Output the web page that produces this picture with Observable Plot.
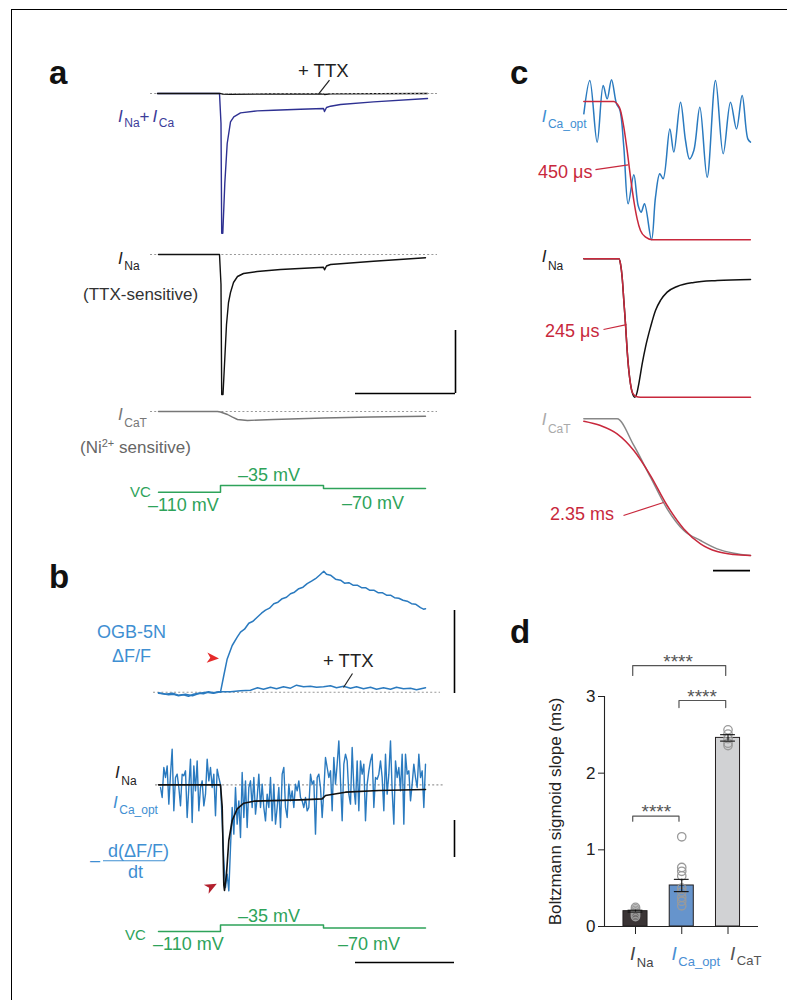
<!DOCTYPE html>
<html><head><meta charset="utf-8">
<script src="https://cdn.jsdelivr.net/npm/d3@7"></script>
<script src="https://cdn.jsdelivr.net/npm/@observablehq/plot@0.6"></script>
<style>
body{margin:0;background:#fff;}
#fig{position:relative;width:787px;height:1000px;overflow:hidden;background:#fff;}
#frame{position:absolute;left:11px;top:9px;width:820px;height:1020px;border-left:1.5px solid #000;border-top:1.5px solid #000;}
</style></head><body><div id="fig"><div id="frame"></div></div>
<script>
// ---------------- DATA ----------------
// Panel a (time in ms from step onset, current in pA)
const aTotal = [[-6.3,0],[-0.1,0],[0.05,-300],[0.12,-1397],[0.23,-1397],[0.43,-900],[0.67,-500],[1.0,-284],[1.33,-234],[2.0,-194],[3.67,-174],[5.3,-167],[8,-158],[10.3,-150],[10.4,-180],[10.6,-140],[11.0,-127],[12,-110],[15.3,-84],[20.7,-50]];
const aTTX = [[-6.3,0],[0,0],[0.2,-6],[1,-8],[5,-5],[10.3,-4],[10.4,-10],[11,-3],[20.7,0]];
const aNa = [[-6.2,0],[-0.1,0],[0.05,-300],[0.12,-1400],[0.25,-1400],[0.4,-1100],[0.6,-700],[0.8,-480],[1.0,-380],[1.3,-280],[1.7,-220],[2.3,-190],[3.67,-170],[6,-150],[10.3,-127],[10.4,-153],[10.6,-115],[11,-100],[15.3,-67],[20.5,-33]];
const aCaT = [[-6.2,0],[-0.3,0],[0,-5],[0.7,-30],[1.2,-57],[1.7,-80],[2.7,-90],[5.3,-80],[10.3,-65],[15,-55],[20.5,-48]];
const vcSteps = [[-6.2,-110],[0,-35],[10.3,-70],[20.5,-70]]; // mV
// Panel b: OGB-5N dF/F (%)
const bDFF = [[-6.2,-0.1],[-5.7,-0.15],[-5.2,-0.25],[-4.7,-0.2],[-4.2,-0.35],[-3.7,-0.25],[-3.2,-0.4],[-2.7,-0.2],[-2.2,-0.1],[-1.7,-0.15],[-1.2,0.05],[-0.7,-0.05],[-0.2,0.05],[0,0],[0.33,1.67],[0.67,3.33],[1.17,4.67],[1.67,5.5],[2.0,6.0],[2.4,6.3],[2.83,6.9],[3.25,7.1],[3.67,7.5],[4.1,7.9],[4.5,8.2],[4.9,8.4],[5.33,8.85],[5.75,9.0],[6.17,9.35],[6.6,9.5],[7.0,9.85],[7.4,10.0],[7.83,10.35],[8.25,10.5],[8.67,10.85],[9.1,11.1],[9.5,11.35],[9.9,11.7],[10.33,12.1],[10.6,11.8],[11.0,11.7],[11.5,11.3],[12.0,11.2],[12.4,10.9],[12.83,10.95],[13.25,10.7],[13.67,10.7],[14.1,10.45],[14.5,10.45],[14.9,10.2],[15.33,10.2],[15.75,9.95],[16.17,9.95],[16.6,9.7],[17.0,9.7],[17.4,9.45],[17.83,9.4],[18.25,9.2],[18.67,9.1],[19.1,8.85],[19.5,8.8],[20.0,8.45],[20.3,8.3],[20.5,8.35]];
const bDFFttx = [[-6.2,-0.05],[-5.5,-0.2],[-4.8,-0.1],[-4.2,-0.3],[-3.5,-0.2],[-2.8,-0.35],[-2.1,-0.1],[-1.4,0],[-0.7,-0.1],[0,0.05],[1,0.05],[2,0.15],[3,0.2],[3.7,0.45],[4.3,0.3],[5,0.5],[5.6,0.35],[6.3,0.55],[7,0.4],[7.6,0.7],[8.3,0.55],[9,0.6],[9.6,0.5],[10.3,0.55],[11,0.65],[11.6,0.45],[12.3,0.6],[13,0.4],[13.6,0.55],[14.3,0.35],[15,0.5],[15.6,0.3],[16.3,0.45],[17,0.3],[17.6,0.5],[18.3,0.35],[19,0.4],[19.6,0.25],[20.5,0.45]];
// Panel b: I_Na (normalised a.u.) and optical I_Ca (-d(dF/F)/dt, a.u.), sampled every 1/6 ms from -6 ms
const bNa = [[-6.2,0],[0,0],[0.17,-66],[0.33,-300],[0.4,-317],[0.6,-267],[0.83,-167],[1.17,-107],[1.67,-72],[2.33,-55],[3.33,-49],[8,-45],[10.17,-42],[10.5,-32],[12.5,-22],[15.83,-17],[20.5,-14]];
const ICaOptStart = -6, ICaOptStep = 1/6;
const ICaOpt = [-8,-38,52,22,57,-58,32,107,-78,22,32,-8,-63,32,27,42,-98,-8,77,-113,57,-18,72,-78,-8,12,-63,-28,77,12,52,-8,32,-93,47,22,0,-108,-228,-308,-268,-318,-188,-68,-148,-8,-118,-48,-158,37,-98,12,-128,-8,12,-68,22,-88,-38,32,-68,2,-68,-108,-28,-68,22,-108,2,-118,-68,-8,-128,32,52,-68,-98,2,-48,-18,-68,2,-18,12,-38,
 -48,-68,-38,-78,-68,32,2,12,-148,22,32,-8,-98,-18,82,52,22,42,-78,82,2,62,132,12,-108,62,92,72,-28,-58,112,-8,-58,72,-78,72,32,62,-108,2,42,72,92,-68,22,17,32,72,22,-78,92,-28,32,132,-18,-118,72,22,52,-18,92,-118,92,32,42,-48,2,62,22,-8,92,22,42,-68,62];
// Panel c (time in ms, normalised amplitude)
const cCaOpt = [[0.009,-0.089],[0.171,0.152],[0.369,-0.294],[0.532,0.116],[0.640,0.019],[0.757,0.157],[0.892,-0.017],[0.982,-0.060],[1.090,-0.330],[1.207,-0.740],[1.360,-0.530],[1.477,-0.752],[1.559,-0.800],[1.649,-0.740],[1.838,-1.000],[1.946,-0.692],[2.063,-0.523],[2.153,-0.559],[2.333,-0.198],[2.441,-0.366],[2.622,-0.005],[2.757,-0.282],[2.865,-0.415],[2.982,-0.354],[3.144,-0.041],[3.342,-0.547],[3.568,0.152],[3.775,-0.378],[3.973,-0.005],[4.135,-0.198],[4.288,0.043],[4.441,-0.270],[4.514,-0.294]];
const cCaOptFit = [[0.009,0],[0.82,0],[0.91,-0.017],[1.0,-0.065],[1.09,-0.186],[1.18,-0.354],[1.27,-0.547],[1.36,-0.716],[1.45,-0.848],[1.54,-0.933],[1.68,-0.981],[1.86,-1.0],[4.51,-1.0]];
const cNa = [[0.009,0],[0.955,0],[1.0,-0.036],[1.045,-0.133],[1.09,-0.301],[1.135,-0.470],[1.18,-0.662],[1.225,-0.807],[1.27,-0.903],[1.315,-0.963],[1.387,-1.0],[1.45,-0.963],[1.495,-0.903],[1.586,-0.759],[1.676,-0.638],[1.811,-0.494],[1.946,-0.373],[2.081,-0.301],[2.261,-0.241],[2.532,-0.200],[2.982,-0.171],[3.613,-0.157],[4.514,-0.149]];
const cNaFit = [[0.009,0],[0.955,0],[1.0,-0.036],[1.045,-0.133],[1.09,-0.301],[1.135,-0.470],[1.18,-0.662],[1.225,-0.807],[1.27,-0.903],[1.315,-0.963],[1.405,-0.993],[1.54,-1.0],[4.514,-1.0]];
const cCaT = [[0.009,0],[0.909,0],[1.36,-0.195],[1.811,-0.427],[2.261,-0.658],[2.712,-0.817],[3.162,-0.890],[3.613,-0.951],[4.063,-0.983],[4.514,-1.0]];
const cCaTFit = [[0.009,-0.017],[0.459,-0.049],[0.909,-0.110],[1.36,-0.232],[1.811,-0.415],[2.261,-0.634],[2.712,-0.805],[3.162,-0.914],[3.613,-0.971],[4.063,-0.993],[4.514,-1.0]];
// Panel d
const dCats = ["Na", "Ca_opt", "CaT"];
const dMeans = [0.20, 0.535, 2.46];
const dSem = [0.012, 0.08, 0.042];
const dPoints = [[0.25,0.23,0.21,0.19,0.17,0.15,0.13],[1.17,0.77,0.72,0.66,0.50,0.45,0.38,0.33,0.27],[2.565,2.51,2.45,2.39,2.36]];
const dBarColors = ["#3a3435", "#6694cc", "#d1d2d4"];
const dTicks = [0, 1, 2, 3];
const dBrackets = [[-0.06,1.95,3.404,3.274,0.92,3.45],[0.94,1.95,2.948,2.856,1.44,2.99],[-0.06,0.94,1.439,1.373,0.45,1.50]]; // x1,x2,top,leg,starsX,starsY
// Scale bars and annotation leaders (data units of each panel)
const aScale = {t1:13.5, t2:23.5, y1:-1390, y2:-760};
const b1Scale = {t:23.4, y1:-0.13, y2:8.17};
const b2Scale = {t:23.4, y1:-218, y2:-107};
const b3Scale = {t1:13.5, t2:23.4, y:-475};
const cScale = {t1:3.514, t2:4.514, y:-1.11};

// ---------------- HELPERS ----------------
const FONT = '"Liberation Sans", Arial, Helvetica, sans-serif';
const fig = document.getElementById("fig");
function place(p, left, top){ p.style.position="absolute"; p.style.left=left+"px"; p.style.top=top+"px"; fig.appendChild(p); }
function trace(left, top, width, height, xd, yd, marks){
  const p = Plot.plot({width, height, margin:0, x:{domain:xd, axis:null}, y:{domain:yd, axis:null},
    style:{background:"transparent", overflow:"visible", fontFamily:FONT}, marks});
  place(p, left, top);
}
const L = (data, o) => Plot.line(data, {x:d=>d[0], y:d=>d[1], strokeLinejoin:"round", ...o});
const dash = (x1, x2) => Plot.ruleY([0], {x1, x2, stroke:"#999", strokeWidth:1.1, strokeDasharray:"2,2.2"});
const leader = (seg, stroke) => Plot.link([seg], {x1:d=>d[0], y1:d=>d[1], x2:d=>d[2], y2:d=>d[3], stroke, strokeWidth:1.2});
function arrowSym(deg){
  const a = deg*Math.PI/180, c = Math.cos(a), s = Math.sin(a);
  return {draw(ctx, size){
    const r = Math.sqrt(size/Math.PI);
    const pts = [[r,0],[-r,-0.85*r],[-0.45*r,0],[-r,0.85*r]].map(([x,y])=>[x*c-y*s, x*s+y*c]);
    ctx.moveTo(...pts[0]); for (let i=1;i<pts.length;i++) ctx.lineTo(...pts[i]); ctx.closePath();
  }};
}
const GREEN = "#2ea35a", BLUE = "#2a7abf", LBLUE = "#3f8fd2", RED = "#c8283c";
const AX = [-8, 24.5];

// ---------------- PANEL a ----------------
trace(140, 85.3, 325, 155, AX, [-1470, 80], [
  dash(-7, 21.7),
  L(aTotal, {stroke:"#2e3192", strokeWidth:1.4}),
  L(aTTX, {stroke:"#111", strokeWidth:1.3}),
  dash(0.5, 21.7),
  leader([10.9, 133, 9.8, -7], "#222")
]);
trace(140, 246, 325, 154, AX, [-1460, 80], [
  dash(-7, 21.7),
  L(aNa, {stroke:"#111", strokeWidth:1.4}),
  Plot.ruleY([aScale.y1], {x1:aScale.t1, x2:aScale.t2, stroke:"#000", strokeWidth:1.6}),
  Plot.ruleX([aScale.t2], {y1:aScale.y1, y2:aScale.y2, stroke:"#000", strokeWidth:1.6})
]);
trace(140, 403, 325, 22, AX, [-140, 80], [
  dash(-7, 21.7),
  L(aCaT, {stroke:"#777", strokeWidth:1.4})
]);
trace(140, 480, 325, 16, AX, [-158, 20], [
  L(vcSteps, {stroke:GREEN, strokeWidth:1.5, curve:"step-after"})
]);

// ---------------- PANEL b ----------------
trace(140, 565, 325, 135, AX, [-0.83, 12.67], [
  dash(-6.7, 22),
  L(bDFFttx, {stroke:BLUE, strokeWidth:1.5}),
  L(bDFF, {stroke:BLUE, strokeWidth:1.5}),
  leader([13.2, 1.87, 12.3, 0.47], "#222"),
  Plot.dot([[-0.75, 3.42]], {x:d=>d[0], y:d=>d[1], r:6, symbol:arrowSym(4), fill:"#e52b2b", stroke:"none"}),
  Plot.ruleX([b1Scale.t], {y1:b1Scale.y1, y2:b1Scale.y2, stroke:"#000", strokeWidth:1.6})
]);
const ICaOptPts = ICaOpt.map((v, i) => [ICaOptStart + i*ICaOptStep, v]);
trace(140, 740, 325, 160, AX, [-347, 133], [
  dash(-6.5, 22.3),
  L(ICaOptPts, {stroke:BLUE, strokeWidth:1.4}),
  L(bNa, {stroke:"#111", strokeWidth:1.6}),
  Plot.dot([[-0.9, -305]], {x:d=>d[0], y:d=>d[1], r:6, symbol:arrowSym(-28), fill:"#b3202e", stroke:"none"}),
  Plot.ruleX([b2Scale.t], {y1:b2Scale.y1, y2:b2Scale.y2, stroke:"#000", strokeWidth:1.6})
]);
trace(140, 905, 325, 62, AX, [-534, 196], [
  L(vcSteps, {stroke:GREEN, strokeWidth:1.5, curve:"step-after"}),
  Plot.ruleY([b3Scale.y], {x1:b3Scale.t1, x2:b3Scale.t2, stroke:"#000", strokeWidth:1.6})
]);

// ---------------- PANEL c ----------------
const CX = [-0.216, 4.919];
trace(575, 70, 190, 175, CX, [-1.041, 0.224], [
  L(cCaOpt, {stroke:BLUE, strokeWidth:1.5, curve:"catmull-rom"}),
  L(cCaOptFit, {stroke:RED, strokeWidth:1.5, curve:"monotone-x"}),
  leader([0.324, -0.492, 1.208, -0.458], RED)
]);
trace(575, 250, 190, 155, CX, [-1.06, 0.06], [
  L(cNa, {stroke:"#111", strokeWidth:1.5, curve:"monotone-x"}),
  L(cNaFit, {stroke:RED, strokeWidth:1.5, curve:"monotone-x"}),
  leader([0.541, -0.511, 1.162, -0.475], RED)
]);
trace(575, 410, 190, 165, CX, [-1.146, 0.061], [
  L(cCaT, {stroke:"#888", strokeWidth:1.5, curve:"monotone-x"}),
  L(cCaTFit, {stroke:RED, strokeWidth:1.5, curve:"monotone-x"}),
  leader([1.081, -0.707, 2.162, -0.612], RED),
  Plot.ruleY([cScale.y], {x1:cScale.t1, x2:cScale.t2, stroke:"#000", strokeWidth:1.6})
]);

// ---------------- PANEL d ----------------
const bars = dCats.map((c, i) => ({i, c, m:dMeans[i], s:dSem[i], fill:dBarColors[i]}));
const pts = dPoints.flatMap((arr, i) => arr.map(v => ({i, v})));
const caps = bars.flatMap(b => [{i:b.i, y:b.m - b.s}, {i:b.i, y:b.m + b.s}]);
const brPts = dBrackets.flatMap((b, k) => [{k, x:b[0], y:b[3]}, {k, x:b[0], y:b[2]}, {k, x:b[1], y:b[2]}, {k, x:b[1], y:b[3]}]);
const pd = Plot.plot({
  width:250, height:340, marginLeft:74, marginRight:22, marginTop:56, marginBottom:54,
  x:{domain:[-0.670, 2.659]}, y:{domain:[0, 3]}, color:{type:"identity"},
  style:{background:"transparent", overflow:"visible", fontFamily:FONT, color:"#222", fontSize:"17px"},
  marks:[
    Plot.axisY({ticks:dTicks, tickSize:6, tickPadding:3, fontSize:17, tickFormat:d=>String(d), label:"Boltzmann sigmoid slope (ms)", labelAnchor:"center", labelArrow:"none", labelOffset:56}),
    Plot.axisX({ticks:[0,1,2], tickSize:8, tickFormat:()=>"", label:null}),
    Plot.rectY(bars, {x1:d=>d.i-0.26, x2:d=>d.i+0.26, y1:0, y2:"m", fill:"fill", stroke:"#231f20", strokeWidth:1}),
    Plot.dot(pts, {x:"i", y:"v", r:4.2, stroke:"#9a9a9a", strokeWidth:1.3, fill:"none"}),
    Plot.ruleX(bars, {x:"i", y1:d=>d.m-d.s, y2:d=>d.m+d.s, stroke:"#111", strokeWidth:1.1}),
    Plot.ruleY(caps, {y:"y", x1:d=>d.i-0.16, x2:d=>d.i+0.16, stroke:"#111", strokeWidth:1.1}),
    Plot.ruleX([-0.670], {y1:0, y2:3, stroke:"#222", strokeWidth:1.1}),
    Plot.ruleY([0], {stroke:"#222", strokeWidth:1.1}),
    Plot.line(brPts, {x:"x", y:"y", z:"k", stroke:"#555", strokeWidth:1.2}),
    Plot.text(dBrackets, {x:d=>d[4], y:d=>d[5], text:()=>"****", fontSize:19, fill:"#555", lineAnchor:"middle"})
  ]
});
place(pd, 530, 640);

// ---------------- TEXT LABELS (overlay) ----------------
const ov = d3.select(fig).append("svg").attr("width",787).attr("height",1000)
  .style("position","absolute").style("left","0px").style("top","0px").style("pointer-events","none")
  .attr("font-family", FONT);
function lab(x, y, segs, fill, size=18){
  const t = ov.append("text").attr("x",x).attr("y",y).attr("fill",fill).attr("font-size",size);
  for (const s of segs){
    const sp = t.append("tspan").text(s.t);
    if (s.size) sp.attr("font-size", s.size);
    if (s.it) sp.attr("font-style","italic");
    if (s.w) sp.attr("font-weight", s.w);
    if (s.dy) sp.attr("dy", s.dy);
    if (s.dx) sp.attr("dx", s.dx);
  }
  return t;
}
const txt = (x, y, s, fill, size=18, extra={}) => lab(x, y, [{t:s, ...extra}], fill, size);
function ilab(x, y, sub, fill, o={}){
  return lab(x, y, [{t:"I", it:1, size:o.I ?? 17}, {t:sub, size:o.S ?? 12, dy:o.dy ?? 6, dx:o.dx ?? 1.5}], fill);
}
// panel letters
txt(49, 83.5, "a", "#111", 33, {w:"bold"});
txt(49, 588, "b", "#111", 33, {w:"bold"});
txt(510, 83.5, "c", "#111", 33, {w:"bold"});
txt(510, 643, "d", "#111", 33, {w:"bold"});
// panel a
txt(298, 77, "+ TTX", "#222", 18.5);
lab(118, 122, [{t:"I", it:1, size:17},{t:"Na", size:12, dy:5, dx:1.5},{t:"+", size:17, dy:-5},{t:"I", it:1, size:17, dx:3},{t:"Ca", size:12, dy:5, dx:1.5}], "#3b3d9a");
ilab(118, 264, "Na", "#222");
txt(83, 299.5, "(TTX-sensitive)", "#333", 17);
ilab(118, 420, "CaT", "#777", {dy:7});
lab(80, 453, [{t:"(Ni"},{t:"2+", size:11, dy:-6},{t:" sensitive)", dy:6}], "#666", 17);
txt(130, 496.5, "VC", GREEN, 15);
txt(148, 511, "\u2013110 mV", GREEN, 18);
txt(238, 481, "\u201335 mV", GREEN, 18);
txt(342, 509, "\u201370 mV", GREEN, 18);
// panel b
txt(97, 638, "OGB-5N", LBLUE, 18);
txt(112, 661.5, "\u0394F/F", LBLUE, 18);
txt(323, 666.5, "+ TTX", "#222", 18.5);
ilab(115, 778, "Na", "#222", {dy:7});
ilab(113, 808, "Ca_opt", LBLUE, {dy:6});
txt(90, 866, "\u2013", LBLUE, 18);
txt(108, 857, "d(\u0394F/F)", LBLUE, 18);
ov.append("line").attr("x1",103).attr("x2",165).attr("y1",860.7).attr("y2",860.7).attr("stroke",LBLUE).attr("stroke-width",1.1);
txt(128, 878, "dt", LBLUE, 18);
txt(125, 940, "VC", GREEN, 15);
txt(153, 950, "\u2013110 mV", GREEN, 18);
txt(238, 921.5, "\u201335 mV", GREEN, 18);
txt(338, 950, "\u201370 mV", GREEN, 18);
// panel c
ilab(541.7, 121.7, "Ca_opt", LBLUE, {dy:6});
txt(538, 178, "450 \u03bcs", RED, 18);
ilab(541.7, 261.7, "Na", "#222", {dy:8});
txt(545, 336.5, "245 \u03bcs", RED, 18);
ilab(541.7, 425, "CaT", "#aaa", {dy:8});
txt(550, 520, "2.35 ms", RED, 18);
// panel d category labels
ilab(630, 960, "Na", "#444", {I:19, S:13, dy:7});
ilab(671.5, 960, "Ca_opt", "#4a8fd4", {I:19, S:13, dy:6});
ilab(730, 960, "CaT", "#555", {I:19, S:13, dy:5});
</script></body></html>
